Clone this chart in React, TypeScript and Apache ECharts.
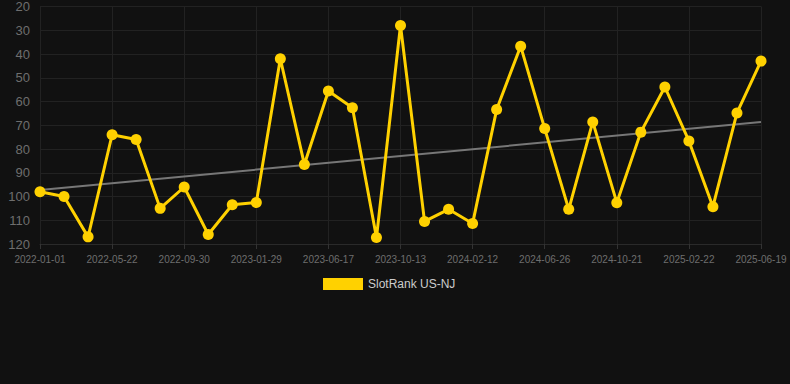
import React, { useEffect, useRef } from "react";
import * as echarts from "echarts";

const dates = [
  "2022-01-01", "2022-02-17", "2022-04-05", "2022-05-22", "2022-07-05", "2022-08-17",
  "2022-09-30", "2022-11-09", "2022-12-19", "2023-01-29", "2023-03-16", "2023-05-01",
  "2023-06-17", "2023-07-26", "2023-09-03", "2023-10-13", "2023-11-22", "2024-01-02",
  "2024-02-12", "2024-03-28", "2024-05-12", "2024-06-26", "2024-08-03", "2024-09-12",
  "2024-10-21", "2024-12-01", "2025-01-11", "2025-02-22", "2025-04-02", "2025-05-11",
  "2025-06-19",
];

const ranks = [
  98, 100, 117, 74, 76, 105, 96, 116, 103.5, 102.5, 42, 86.5, 55.6, 62.6, 117.3, 28,
  110.5, 105.4, 111.4, 63.4, 36.7, 71.4, 105.4, 68.6, 102.6, 72.9, 53.9, 76.6, 104.3,
  64.8, 43,
];

const trendStart = 97.3;
const trendEnd = 68.6;

const seriesName = "SlotRank US-NJ";

export default function App() {
  const ref = useRef<HTMLDivElement>(null);
  useEffect(() => {
    document.body.style.margin = "0";
    if (!ref.current) return;
    const chart = echarts.init(ref.current, null, { renderer: "svg" });
    const trend = dates.map((_, i) =>
      i === 0 ? trendStart : i === dates.length - 1 ? trendEnd : null
    );
    chart.setOption({
      animation: false,
      backgroundColor: "#111111",
      grid: { left: 40, right: 29, top: 6, bottom: 140 },
      legend: {
        data: [{ name: seriesName, icon: "rect" }],
        top: 273,
        left: 318,
        itemWidth: 40,
        itemHeight: 12,
        textStyle: { color: "#cccccc", fontSize: 12, fontFamily: "Liberation Sans, Arial, sans-serif" },
      },
      xAxis: {
        type: "category",
        data: dates,
        boundaryGap: false,
        axisLine: { show: true, lineStyle: { color: "#2a2a2a" } },
        axisTick: { show: true, interval: 2, lineStyle: { color: "#333" } },
        axisLabel: {
          interval: 2,
          color: "#6e6e6e",
          fontSize: 10,
          margin: 10,
          fontFamily: "Liberation Sans, Arial, sans-serif",
        },
        splitLine: { show: true, interval: 2, lineStyle: { color: "#222222" } },
      },
      yAxis: {
        type: "value",
        inverse: true,
        min: 20,
        max: 120,
        interval: 10,
        axisLine: { show: false },
        axisTick: { show: false },
        axisLabel: {
          color: "#6e6e6e",
          fontSize: 13,
          margin: 10,
          fontFamily: "Liberation Sans, Arial, sans-serif",
        },
        splitLine: { show: true, lineStyle: { color: "#222222" } },
      },
      series: [
        {
          name: seriesName,
          type: "line",
          data: ranks,
          color: "#ffd100",
          lineStyle: { width: 3, color: "#ffd100" },
          itemStyle: { color: "#ffd100" },
          symbol: "circle",
          symbolSize: 11,
          z: 3,
        },
        {
          name: "trend",
          type: "line",
          data: trend,
          connectNulls: true,
          symbol: "none",
          lineStyle: { width: 2, color: "#777777" },
          itemStyle: { color: "#777777" },
          z: 2,
          silent: true,
        },
      ],
    });
    return () => chart.dispose();
  }, []);
  return <div ref={ref} style={{ width: 790, height: 384 }} />;
}
